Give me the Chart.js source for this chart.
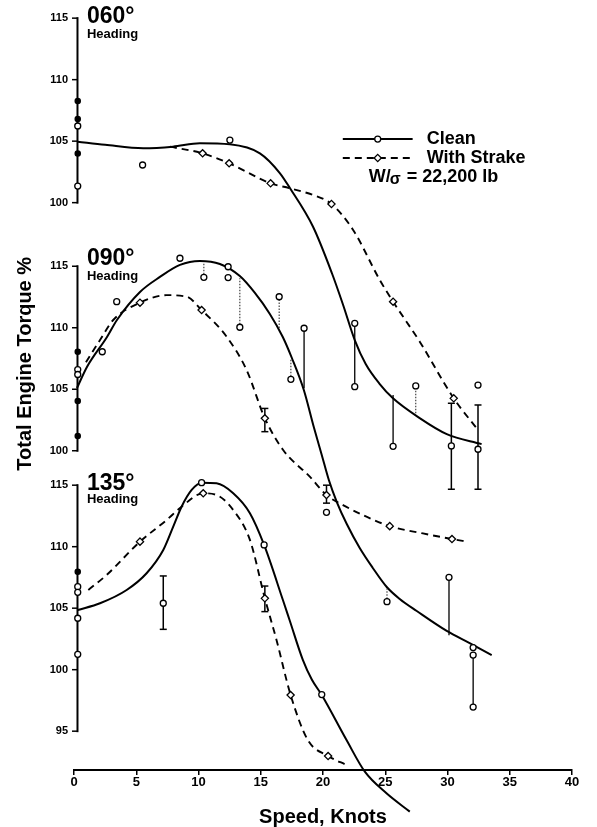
<!DOCTYPE html>
<html>
<head>
<meta charset="utf-8">
<script src="https://cdn.jsdelivr.net/npm/chart.js"></script>
<style>
  html, body { margin: 0; padding: 0; background: #fff; }
  #wrap { width: 597px; height: 827px; position: relative; }
</style>
</head>
<body>
<div id="wrap"><canvas id="torque-chart"></canvas></div>
<script>
// speed in knots, torque in % read on each panel's own axis
const speedTicks = [0, 5, 10, 15, 20, 25, 30, 35, 40];
const headings = ['060°', '090°', '135°'];
const p1Ticks = [100, 105, 110, 115];
const p2Ticks = [100, 105, 110, 115];
const p3Ticks = [95, 100, 105, 110, 115];
const hoverSpeed = 0.3;

// 060° heading
const p1CleanCurve = [[0.3, 104.95], [2.5, 104.7], [5.56, 104.42], [7.95, 104.55], [10.11, 104.83], [12.52, 104.74],
  [14.93, 104.01], [16.53, 102.41], [17.34, 101.19], [19.2, 98.04], [20.71, 94.28], [21.59, 91.76], [22.55, 88.83],
  [23.43, 86.88], [24.56, 85.25], [25.6, 84.11], [27.77, 82.48], [29.94, 81.18], [32.74, 80.37]];
const p1StrakeCurve = [[7.7, 104.55], [10.33, 104.01], [12.46, 103.2], [15.79, 101.57], [17.34, 101.17], [19.2, 100.62],
  [20.68, 99.89], [22.42, 97.78], [24.56, 93.71], [25.63, 91.95], [27.77, 88.7], [30.5, 84.09], [32.45, 81.52]];
const p1CleanPts = [[5.51, 103.06], [12.52, 105.09], [22.55, 90.19], [22.55, 85.04], [25.63, 80.19], [27.45, 85.1],
  [30.31, 80.22], [32.45, 79.95], [32.45, 85.17]];
const p1StrakePts = [[10.33, 104.01], [12.46, 103.2], [15.79, 101.57], [20.68, 99.89], [25.63, 91.95], [30.5, 84.09]];
const p1HoverFilled = [108.26, 106.8, 104.0];
const p1HoverOpen = [106.23, 101.35];
const p1Lines = [[22.55, 85.04, 90.19], [25.63, 80.19, 84.37]];
const p1Dotted = [[27.45, 82.87, 85.1]];
const p1Bars = [[30.31, 76.7, 83.69], [32.45, 76.7, 83.55]];

// 090° heading
const p2CleanCurve = [[0.24, 105.1], [1.04, 106.81], [2.65, 109.25], [3.45, 110.63], [5.3, 112.91], [6.9, 114.13],
  [8.51, 115.11], [10.11, 115.43], [11.72, 115.18], [13.32, 114.2], [14.53, 112.83], [15.73, 111.12], [16.77, 109.25],
  [17.5, 107.54], [18.46, 104.94], [19.26, 101.93], [19.9, 99.66], [20.47, 97.62], [21.11, 95.83], [21.91, 94.04],
  [22.95, 92.09], [24.0, 90.47], [25.12, 88.92], [26.16, 87.95], [27.53, 86.97], [29.94, 85.35], [31.78, 84.36],
  [33.55, 83.39]];
const p2StrakeCurve = [[0.96, 107.2], [2.09, 109.0], [3.15, 110.63], [5.3, 112.04], [7.44, 112.65], [9.05, 112.52],
  [10.25, 111.44], [12.26, 109.27], [13.86, 106.57], [15.33, 102.64], [16.8, 100.06], [18.94, 97.89], [20.28, 96.4],
  [21.61, 95.58], [23.49, 94.64], [25.36, 93.87], [28.03, 93.28], [30.36, 92.82], [31.64, 92.6]];
const p2CleanPts = [[2.27, 108.05], [3.43, 112.12], [8.51, 115.65], [10.43, 114.1], [12.38, 114.96], [12.38, 114.08],
  [13.32, 110.04], [16.48, 112.52], [17.42, 105.81], [18.48, 109.96], [20.28, 94.99], [25.14, 87.73], [30.12, 89.71],
  [32.06, 84.0], [32.06, 83.39], [32.06, 79.16]];
const p2StrakePts = [[5.3, 112.04], [10.25, 111.44], [15.33, 102.64], [20.28, 96.4], [25.36, 93.87], [30.36, 92.82]];
const p2HoverFilled = [108.05, 104.05, 101.2];
const p2HoverOpen = [106.6, 106.2];
const p2Lines = [[18.48, 105.08, 109.96], [30.12, 85.0, 89.71], [32.06, 79.16, 83.39]];
const p2Dotted = [[10.43, 114.1, 115.26], [13.32, 110.04, 114.02], [16.48, 109.98, 112.52], [17.42, 105.81, 107.52],
  [25.14, 87.73, 88.81]];
const p2Bars = [[15.33, 101.55, 103.44], [20.28, 95.74, 97.2]];

// 135° heading
const p3CleanCurve = [[0.3, 104.85], [2.09, 105.4], [4.23, 106.48], [5.83, 107.84], [7.17, 109.73], [7.97, 111.63],
  [8.64, 113.25], [9.45, 114.61], [10.25, 115.2], [11.45, 115.15], [12.79, 114.34], [14.13, 112.72], [15.27, 110.14],
  [16.8, 105.6], [17.34, 103.96], [18.38, 100.8], [19.1, 99.2], [19.9, 97.94], [21.89, 94.28], [23.36, 91.71],
  [25.1, 89.95], [26.97, 88.46]];
const p3StrakeCurve = [[1.15, 106.48], [2.62, 107.7], [5.3, 110.41], [7.44, 112.17], [8.64, 113.25], [10.38, 114.34],
  [11.45, 114.2], [12.79, 112.98], [14.13, 110.55], [15.33, 105.8], [16.27, 102.4], [17.4, 97.94], [18.78, 94.28],
  [20.41, 92.98], [21.89, 92.25]];
const p3CleanPts = [[7.17, 105.4], [10.25, 115.2], [15.27, 110.14], [19.9, 97.98], [25.1, 89.95]];
const p3StrakePts = [[5.3, 110.41], [10.38, 114.34], [15.33, 105.8], [17.4, 97.94], [20.41, 92.98]];
const p3HoverFilled = [107.97];
const p3HoverOpen = [106.75, 106.29, 104.18, 101.25];
const p3Bars = [[7.17, 103.28, 107.62], [15.33, 104.72, 106.8]];

// each panel sits on the shared canvas axis shifted by this many units
const panelOffset = [0, -20.17, -37.97];
const AXIS_X = 0.28;
const FONT = "'Liberation Sans', Arial, Helvetica, sans-serif";

Chart.defaults.font.family = FONT;
Chart.defaults.color = '#000';

const pts = (pairs, off) => pairs.map(([x, y]) => ({x, y: y + off}));
const hover = (vals, off) => vals.map(v => ({x: hoverSpeed, y: v + off}));
const segs = (rows, off) => {
    const out = [];
    rows.forEach(([x, lo, hi]) => out.push({x, y: lo + off}, {x, y: hi + off}, {x, y: null}));
    return out;
};

const openCircle = {showLine: false, pointStyle: 'circle', pointRadius: 3, pointBorderWidth: 1.3,
    pointBackgroundColor: '#fff', pointBorderColor: '#000', clip: false};
const diamond = {...openCircle, pointStyle: 'rectRot', pointRadius: 3.6};
const dot = {...openCircle, pointRadius: 2.6, pointBackgroundColor: '#000'};
const solid = {borderColor: '#000', borderWidth: 2, pointRadius: 0, cubicInterpolationMode: 'monotone', fill: false, clip: false};
const dashed = {...solid, borderWidth: 1.9, borderDash: [7, 5]};
const thin = {borderColor: '#000', borderWidth: 1.3, pointRadius: 0, tension: 0, clip: false};
const dotted = {...thin, borderColor: '#333', borderWidth: 1.1, borderDash: [1.5, 1.5]};
const capped = {borderColor: '#000', borderWidth: 1.5, pointStyle: 'line', pointRadius: 3.5, pointBorderWidth: 1.5,
    pointBorderColor: '#000', tension: 0, clip: false};

const panels = [
    {ticks: p1Ticks, clean: p1CleanCurve, strake: p1StrakeCurve, cPts: p1CleanPts, sPts: p1StrakePts,
        hf: p1HoverFilled, ho: p1HoverOpen, lines: p1Lines, dotted: p1Dotted, bars: p1Bars},
    {ticks: p2Ticks, clean: p2CleanCurve, strake: p2StrakeCurve, cPts: p2CleanPts, sPts: p2StrakePts,
        hf: p2HoverFilled, ho: p2HoverOpen, lines: p2Lines, dotted: p2Dotted, bars: p2Bars},
    {ticks: p3Ticks, clean: p3CleanCurve, strake: p3StrakeCurve, cPts: p3CleanPts, sPts: p3StrakePts,
        hf: p3HoverFilled, ho: p3HoverOpen, lines: [], dotted: [], bars: p3Bars}
];

const markerSets = [], barSets = [], curveSets = [];
panels.forEach((p, i) => {
    const off = panelOffset[i];
    markerSets.push(
        {...openCircle, data: pts(p.cPts, off)},
        {...diamond, data: pts(p.sPts, off)},
        {...openCircle, data: hover(p.ho, off)},
        {...dot, data: hover(p.hf, off)}
    );
    barSets.push(
        {...capped, data: segs(p.bars, off)},
        {...thin, data: segs(p.lines, off)},
        {...dotted, data: segs(p.dotted, off)}
    );
    curveSets.push(
        {...solid, data: pts(p.clean, off)},
        {...dashed, data: pts(p.strake, off)}
    );
});

// tick list for the single vertical scale, labelled in each panel's own units
const yTickList = [];
panels.forEach((p, i) => p.ticks.forEach(t => yTickList.push({value: t + panelOffset[i], text: String(t)})));

// label anchors: [speed, panel value]
const headingAt = [[1.04, 115.09, 113.67], [1.04, 115.59, 114.15], [1.04, 115.15, 113.84]];

const decorations = {
    id: 'decorations',
    beforeDatasetsDraw(chart) {
        const {ctx, scales: {x, y}} = chart;
        const ax = x.getPixelForValue(AXIS_X);
        ctx.save();
        ctx.strokeStyle = '#000';
        panels.forEach((p, i) => {
            const off = panelOffset[i];
            const top = y.getPixelForValue(Math.max(...p.ticks) + off);
            const bot = y.getPixelForValue(Math.min(...p.ticks) + off);
            ctx.lineWidth = 2;
            ctx.beginPath();
            ctx.moveTo(ax, top - 1);
            ctx.lineTo(ax, bot + 1);
            ctx.stroke();
            ctx.lineWidth = 1.5;
            p.ticks.forEach(t => {
                const py = y.getPixelForValue(t + off);
                ctx.beginPath();
                ctx.moveTo(ax - 5.5, py);
                ctx.lineTo(ax, py);
                ctx.stroke();
            });
        });
        ctx.restore();
    },
    afterDraw(chart) {
        const {ctx, scales: {x, y}} = chart;
        ctx.save();
        ctx.fillStyle = '#000';
        ctx.textBaseline = 'middle';
        ctx.textAlign = 'left';

        headings.forEach((h, i) => {
            const [sx, vt, vh] = headingAt[i];
            const off = panelOffset[i];
            ctx.font = 'bold 23px ' + FONT;
            ctx.fillText(h, x.getPixelForValue(sx), y.getPixelForValue(vt + off));
            ctx.font = 'bold 13px ' + FONT;
            ctx.fillText('Heading', x.getPixelForValue(sx), y.getPixelForValue(vh + off));
        });

        // y title
        ctx.save();
        ctx.translate(25, y.getPixelForValue(86.9));
        ctx.rotate(-Math.PI / 2);
        ctx.textAlign = 'center';
        ctx.font = 'bold 20px ' + FONT;
        ctx.fillText('Total Engine Torque %', 0, 0);
        ctx.restore();

        // legend
        const x0 = x.getPixelForValue(21.59), x1 = x.getPixelForValue(27.2);
        const tx = x.getPixelForValue(28.33);
        const yc = y.getPixelForValue(105.17), ys = y.getPixelForValue(103.63), yw = y.getPixelForValue(102.08);
        ctx.strokeStyle = '#000';
        ctx.lineWidth = 2;
        ctx.beginPath(); ctx.moveTo(x0, yc); ctx.lineTo(x1, yc); ctx.stroke();
        ctx.setLineDash([7, 5]);
        ctx.lineWidth = 1.9;
        ctx.beginPath(); ctx.moveTo(x0, ys); ctx.lineTo(x1, ys); ctx.stroke();
        ctx.setLineDash([]);
        const mx = (x0 + x1) / 2;
        ctx.lineWidth = 1.3;
        ctx.fillStyle = '#fff';
        ctx.beginPath(); ctx.arc(mx, yc, 3, 0, Math.PI * 2); ctx.fill(); ctx.stroke();
        ctx.beginPath();
        ctx.moveTo(mx, ys - 3.6); ctx.lineTo(mx + 3.6, ys); ctx.lineTo(mx, ys + 3.6); ctx.lineTo(mx - 3.6, ys);
        ctx.closePath(); ctx.fill(); ctx.stroke();
        ctx.fillStyle = '#000';
        ctx.font = 'bold 18px ' + FONT;
        ctx.fillText('Clean', tx, yc);
        ctx.fillText('With Strake', tx, ys);
        let wx = x.getPixelForValue(23.68);
        ctx.fillText('W/', wx, yw);
        wx += ctx.measureText('W/').width;
        ctx.font = 'bold 16px ' + FONT;
        ctx.fillText('σ', wx - 1, yw + 3);
        wx += ctx.measureText('σ').width;
        ctx.font = 'bold 18px ' + FONT;
        ctx.fillText(' = 22,200 lb', wx, yw);
        ctx.restore();
    }
};

new Chart(document.getElementById('torque-chart'), {
    type: 'line',
    data: {datasets: [...markerSets, ...barSets, ...curveSets]},
    options: {
        responsive: true,
        maintainAspectRatio: false,
        animation: false,
        events: [],
        layout: {padding: {top: 6, right: 25, bottom: 0, left: 0}},
        plugins: {legend: {display: false}, tooltip: {enabled: false}},
        scales: {
            x: {
                type: 'linear', min: 0, max: 40, bounds: 'data',
                afterBuildTicks: s => { s.ticks = speedTicks.map(v => ({value: v})); },
                ticks: {padding: 0, maxRotation: 0, autoSkip: false, font: {size: 13, weight: 'bold'}},
                grid: {drawOnChartArea: false, drawTicks: true, tickLength: 5, color: '#000', lineWidth: 1.5},
                border: {display: true, color: '#000', width: 2},
                title: {display: true, text: 'Speed, Knots', padding: 0, font: {size: 20, weight: 'bold', lineHeight: 1}},
                afterFit: s => { s.height = 57; s.paddingLeft = 0; s.paddingRight = 0; }
            },
            y: {
                type: 'linear', min: 53.874, max: 115.988, bounds: 'data',
                afterBuildTicks: s => { s.ticks = yTickList.map(t => ({...t})); },
                ticks: {autoSkip: false, padding: 6, font: {size: 11, weight: 'bold'},
                    callback: (v, i, t) => t[i].text},
                grid: {display: false, drawTicks: false},
                border: {display: false},
                afterFit: s => { s.width = 74; s.paddingTop = 0; s.paddingBottom = 0; }
            }
        }
    },
    plugins: [decorations]
});
</script>
</body>
</html>
